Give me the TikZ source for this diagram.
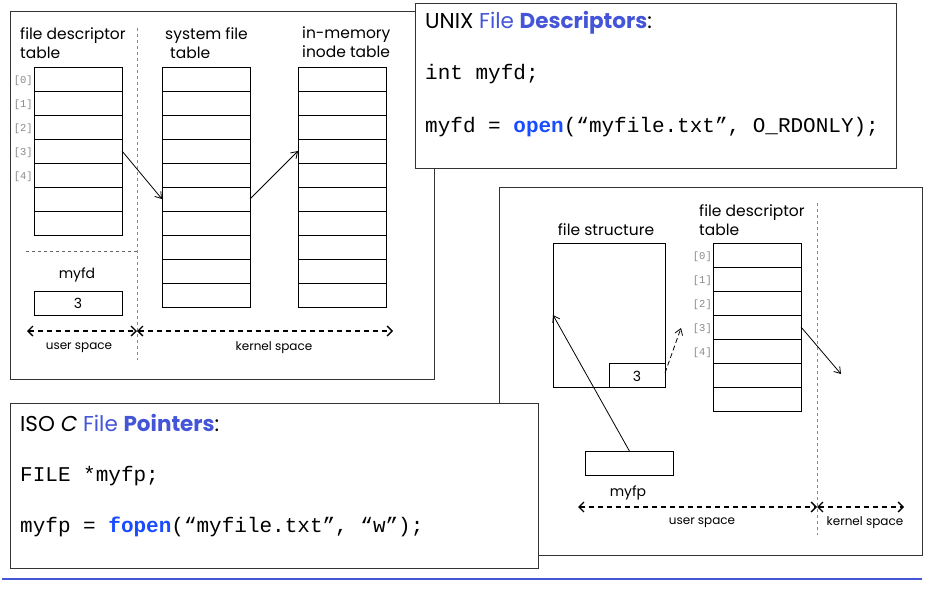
\documentclass[tikz,border=0pt]{standalone}
\usepackage{fontspec}
\setmainfont{Poppins}
\setmonofont{Liberation Mono}
\usetikzlibrary{arrows.meta}
\definecolor{titleblue}{HTML}{4455D8}
\definecolor{kwblue}{HTML}{1A4CFF}
\definecolor{idxgray}{HTML}{8A8A8A}
\definecolor{framegray}{HTML}{333333}
\begin{document}
\begin{tikzpicture}[x=1pt,y=-1pt,
  panel/.style={draw=framegray, fill=white, line width=0.9pt, inner sep=0pt, anchor=north west},
  tbl/.style={draw=black, line width=0.8pt, inner sep=0pt, anchor=north west, minimum width=88pt},
  cell/.style={draw=black, line width=0.8pt, inner sep=0pt, minimum width=88pt, minimum height=24pt, font=\fontsize{14}{16}\selectfont},
  lbl/.style={inner sep=0pt, anchor=north west, align=left, font=\fontsize{15.5}{19}\selectfont},
  small/.style={inner sep=0pt, font=\fontsize{12}{14}\selectfont},
  idx/.style={inner sep=0pt, anchor=east, text=idxgray, font=\ttfamily\fontsize{10.5}{12}\selectfont},
  code/.style={inner sep=0pt, anchor=west, font=\ttfamily\fontsize{21}{24}\selectfont},
  head/.style={inner sep=0pt, anchor=west, font=\fontsize{21.5}{24}\selectfont},
  ptr/.style={line width=0.8pt, -{Straight Barb[length=6pt,width=8pt]}},
  dptr/.style={ptr, dash pattern=on 5pt off 3pt},
  span/.style={line width=1.3pt, dash pattern=on 5pt off 4pt, {Straight Barb[length=5pt,width=10pt]}-{Straight Barb[length=5pt,width=10pt]}},
  divider/.style={draw=idxgray, line width=0.8pt, dash pattern=on 3pt off 3pt}]

\useasboundingbox (0,0) rectangle (931,607);

% ---------- UNIX file descriptor panel ----------
\node[panel, minimum width=424pt, minimum height=368pt] (unixpanel) at (10,11) {};
\coordinate (divTop) at (137,28);
\coordinate (divBot) at (137,360);
\draw[divider] (divTop) -- (divBot);
\coordinate (usepL) at (26,251);
\coordinate (usepR) at (137,251);
\draw[divider, draw=black!60] (usepL) -- (usepR);

\node[lbl] (fdtlbl) at (20,27) {file descriptor\\table};
\node[lbl] (sftlbl) at (165,27) {system file\\\hspace*{5pt}table};
\node[lbl] (inolbl) at (302,27) {in-memory\\inode table};

\node[tbl, minimum height=168pt] (fdt) at (34,67) {};
\foreach \i in {1,...,6} \draw[line width=0.8pt] (34,67+24*\i) -- (122,67+24*\i);
\foreach \i in {0,...,6} {
  \coordinate (fdtR\i) at (122,79+24*\i);
}
\foreach \i in {0,...,4} \node[idx] (fdtidx\i) at (33,81+24*\i) {[\i]};

\node[tbl, minimum height=240pt] (sft) at (162,67) {};
\foreach \i in {1,...,9} \draw[line width=0.8pt] (162,67+24*\i) -- (250,67+24*\i);
\foreach \i in {0,...,9} {
  \coordinate (sftL\i) at (162,79+24*\i);
  \coordinate (sftR\i) at (250,79+24*\i);
}

\node[tbl, minimum height=240pt] (ino) at (298,67) {};
\foreach \i in {1,...,9} \draw[line width=0.8pt] (298,67+24*\i) -- (386,67+24*\i);
\foreach \i in {0,...,9} \coordinate (inoL\i) at (298,79+24*\i);

\draw[ptr] (fdtR3) -- (sftL5);
\draw[ptr] (sftR5) -- (inoL3);

\node[small, font=\fontsize{14}{16}\selectfont] (myfdlbl) at (77,275) {myfd};
\node[cell] (myfd) at (78,303) {3};

\coordinate (uspL) at (27,331);
\coordinate (uspM) at (137,331);
\coordinate (kspR) at (393,331);
\draw[span] (uspL) -- (uspM);
\draw[span] (uspM) -- (kspR);
\node[small] (uslbl) at (79,348) {user space};
\node[small] (kslbl) at (274,348) {kernel space};

% ---------- UNIX code box ----------
\node[panel, minimum width=481pt, minimum height=165pt] (unixbox) at (415,3) {};
\node[head] (unixhead) at (425,23) {UNIX {\color{titleblue}File \textbf{Descriptors}}:};
\node[code] (unixdecl) at (425,74) {int myfd;};
\node[code] (unixcall) at (425,127) {myfd = {\color{kwblue}\textbf{open}}(“myfile.txt”, O\_RDONLY);};

% ---------- ISO C file pointer panel ----------
\node[panel, minimum width=423pt, minimum height=368pt] (isopanel) at (499,187) {};
\coordinate (rdivTop) at (817,203);
\coordinate (rdivBot) at (817,535);
\draw[divider] (rdivTop) -- (rdivBot);

\node[small, font=\fontsize{15.5}{19}\selectfont] (fslbl) at (606,230) {file structure};
\node[tbl, minimum width=112pt, minimum height=144pt] (fs) at (553,243) {};
\node[cell, minimum width=56pt, anchor=north west] (fsfd) at (609,363) {};
\node[inner sep=0pt, font=\fontsize{14}{16}\selectfont] (fsfdval) at (637,376) {3};

\node[lbl] (rfdtlbl) at (699,204) {file descriptor\\table};
\node[tbl, minimum height=168pt] (rfdt) at (713,243) {};
\foreach \i in {1,...,6} \draw[line width=0.8pt] (713,243+24*\i) -- (801,243+24*\i);
\foreach \i in {0,...,6} {
  \coordinate (rfdtL\i) at (713,255+24*\i);
  \coordinate (rfdtR\i) at (801,255+24*\i);
}
\foreach \i in {0,...,4} \node[idx] (rfdtidx\i) at (712,257+24*\i) {[\i]};

\coordinate (fsfdOut) at (665,373);
\coordinate (fdHint) at (681,328);
\draw[dptr] (fsfdOut) -- (fdHint);
\coordinate (kernelHint) at (841,374);
\draw[ptr] (rfdtR3) -- (kernelHint);

\node[cell, anchor=north west] (myfp) at (585,451) {};
\coordinate (fsEntry) at (553,315);
\draw[ptr] (myfp.north) -- (fsEntry);
\node[small, font=\fontsize{14}{16}\selectfont] (myfplbl) at (628,493) {myfp};

\coordinate (ruspL) at (578,507);
\coordinate (ruspM) at (817,507);
\coordinate (rkspR) at (904,507);
\draw[span] (ruspL) -- (ruspM);
\draw[span] (ruspM) -- (rkspR);
\node[small] (ruslbl) at (702,523) {user space};
\node[small] (rkslbl) at (865,523) {kernel space};

% ---------- ISO C code box ----------
\node[panel, minimum width=528pt, minimum height=165pt] (isobox) at (10,403) {};
\node[head] (isohead) at (20,423) {ISO \textit{C} {\color{titleblue}File \textbf{Pointers}}:};
\node[code] (isodecl) at (20,476) {FILE *myfp;};
\node[code] (isocall) at (20,527) {myfp = {\color{kwblue}\textbf{fopen}}(“myfile.txt”, “w”);};

% ---------- footer rule ----------
\coordinate (ruleL) at (2,579);
\coordinate (ruleR) at (922,579);
\draw[titleblue, line width=1.2pt] (ruleL) -- (ruleR);
\end{tikzpicture}
\end{document}
